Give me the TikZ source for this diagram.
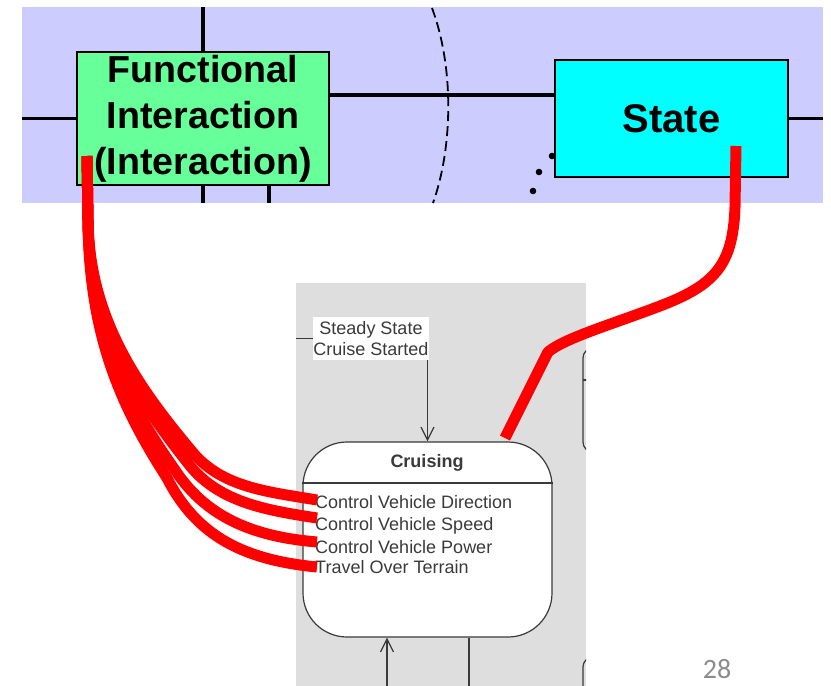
\documentclass[tikz,border=0pt]{standalone}
\usepackage{fontspec}
\setmainfont{Liberation Sans}
\newfontfamily\slidefont{Carlito}
\usetikzlibrary{arrows.meta}
\definecolor{bandblue}{HTML}{CCCCFF}
\definecolor{funcgreen}{HTML}{66FF99}
\definecolor{statecyan}{HTML}{00FFFF}
\definecolor{panelgrey}{HTML}{DEDEDE}
\definecolor{lowgrey}{HTML}{3A3A3A}
\definecolor{numgrey}{HTML}{8C8C8C}

\begin{document}
\begin{tikzpicture}%
[x=1pt,y=-1pt,%
blockbox/.style={draw, line width=1.8pt, inner sep=0pt, align=center},%
wire/.style={line width=3.6pt},%
redwire/.style={draw=red, line width=11pt, line join=round},%
smalltxt/.style={font=\fontsize{18}{21}\selectfont, text=lowgrey},%
lowline/.style={draw=lowgrey, line width=1.2pt},%
barb/.style={-{Straight Barb[length=13pt,width=13pt]}}]

\useasboundingbox (0,0) rectangle (831,686);

% top band
\node[fill=bandblue, minimum width=801pt, minimum height=196pt, inner sep=0pt] (band) at (422.5,105) {};

\node[blockbox, fill=funcgreen, minimum width=252pt, minimum height=133pt,%
  font=\bfseries\fontsize{37.6}{46}\selectfont] (func) at (203,118.5)
  {Functional\\Interaction\\(Interaction)};
\node[blockbox, fill=statecyan, minimum width=233pt, minimum height=117pt,%
  font=\bfseries\fontsize{40}{46}\selectfont] (state) at (671.5,118.5) {State};

\draw[wire] (func.north) -- (func.north |- band.north);
\draw[wire] (func.west) -- (func.west -| band.west);
\draw[wire] ([yshift=23.5pt]func.east) -- ([yshift=23.5pt]func.east -| state.west);
\draw[wire] (func.south) -- (func.south |- band.south);
\draw[wire] ([xshift=66pt]func.south) -- ([xshift=66pt]func.south |- band.south);
\draw[wire] (state.east) -- (state.east -| band.east);

\draw[line width=1.8pt, dash pattern=on 10pt off 5pt] (432,8) .. controls (455,70) and (452,150) .. (433,203);

\foreach \dx/\dy [count=\k] in {552/156, 539/172, 533/191}
  \fill (\dx,\dy) circle (3.3pt) coordinate (dot\k);

% state machine excerpt
\node[fill=panelgrey, minimum width=290pt, minimum height=403pt, inner sep=0pt] (panel) at (441,484.5) {};

\node[fill=white, smalltxt, align=center, inner sep=0pt, minimum width=116pt, minimum height=43pt] (steady) at (371,338.5)
  {Steady State\\Cruise Started};
\draw[lowline] (steady.west) -- (steady.west -| panel.west);

\node[lowline, fill=white, rounded corners=44pt, minimum width=249pt, minimum height=195pt] (cruising) at (427.5,539.5) {};
\draw[lowline, barb] (steady.south -| cruising.north) -- (cruising.north);

\node[smalltxt, font=\bfseries\fontsize{18}{21}\selectfont, anchor=base] (title) at (427,467) {Cruising};
\coordinate (div) at (427,483);
\draw[lowline] (div -| cruising.west) -- (div -| cruising.east);

\node[smalltxt, anchor=base west, inner sep=0pt] (dir) at (315,508) {Control Vehicle Direction};
\node[smalltxt, anchor=base west, inner sep=0pt] (speed) at (315,530) {Control Vehicle Speed};
\node[smalltxt, anchor=base west, inner sep=0pt] (power) at (315,553) {Control Vehicle Power};
\node[smalltxt, anchor=base west, inner sep=0pt] (terrain) at (315,573) {Travel Over Terrain};

\coordinate (inB) at (387,686);
\coordinate (outB) at (469,686);
\draw[lowline, barb] (inB) -- (inB |- cruising.south);
\draw[lowline] (outB |- cruising.south) -- (outB);

\begin{scope}
\clip (panel.north west) rectangle (panel.south east);
\draw[lowline, rounded corners=10pt] (583,348) rectangle (660,452);
\draw[lowline] (583,380) -- (592,380);
\draw[lowline, rounded corners=10pt] (583,657) rectangle (660,730);
\end{scope}

\node[font=\slidefont\fontsize{28}{30}\selectfont, text=numgrey] (pagenum) at (717,669) {28};

% red links
\coordinate (fstart) at (87,156);
\coordinate (fsplit) at (88,220);
\coordinate (dirEnd) at (317,500);
\coordinate (speedEnd) at (317,518);
\coordinate (powerEnd) at (317,542);
\coordinate (terrainEnd) at (317,567);
\coordinate (sstart) at (736,146);
\coordinate (cruiseTop) at (505,438);

\draw[redwire] (fstart) -- (fsplit) .. controls (89,320) and (140,390) .. (195,455) .. controls (225,488) and (270,492) .. (dirEnd);
\draw[redwire] (fstart) -- (fsplit) .. controls (89,325) and (134,395) .. (187,462) .. controls (217,502) and (265,510) .. (speedEnd);
\draw[redwire] (fstart) -- (fsplit) .. controls (89,330) and (126,400) .. (175,470) .. controls (208,520) and (258,537) .. (powerEnd);
\draw[redwire] (fstart) -- (fsplit) .. controls (89,335) and (120,405) .. (167,478) .. controls (197,537) and (245,560) .. (terrainEnd);

\draw[redwire] (sstart) -- (735,207) .. controls (733,265) and (715,285) .. (660,306)
  .. controls (610,325) and (565,338) .. (548,352) -- (525,398) -- (cruiseTop);
\end{tikzpicture}
\end{document}
